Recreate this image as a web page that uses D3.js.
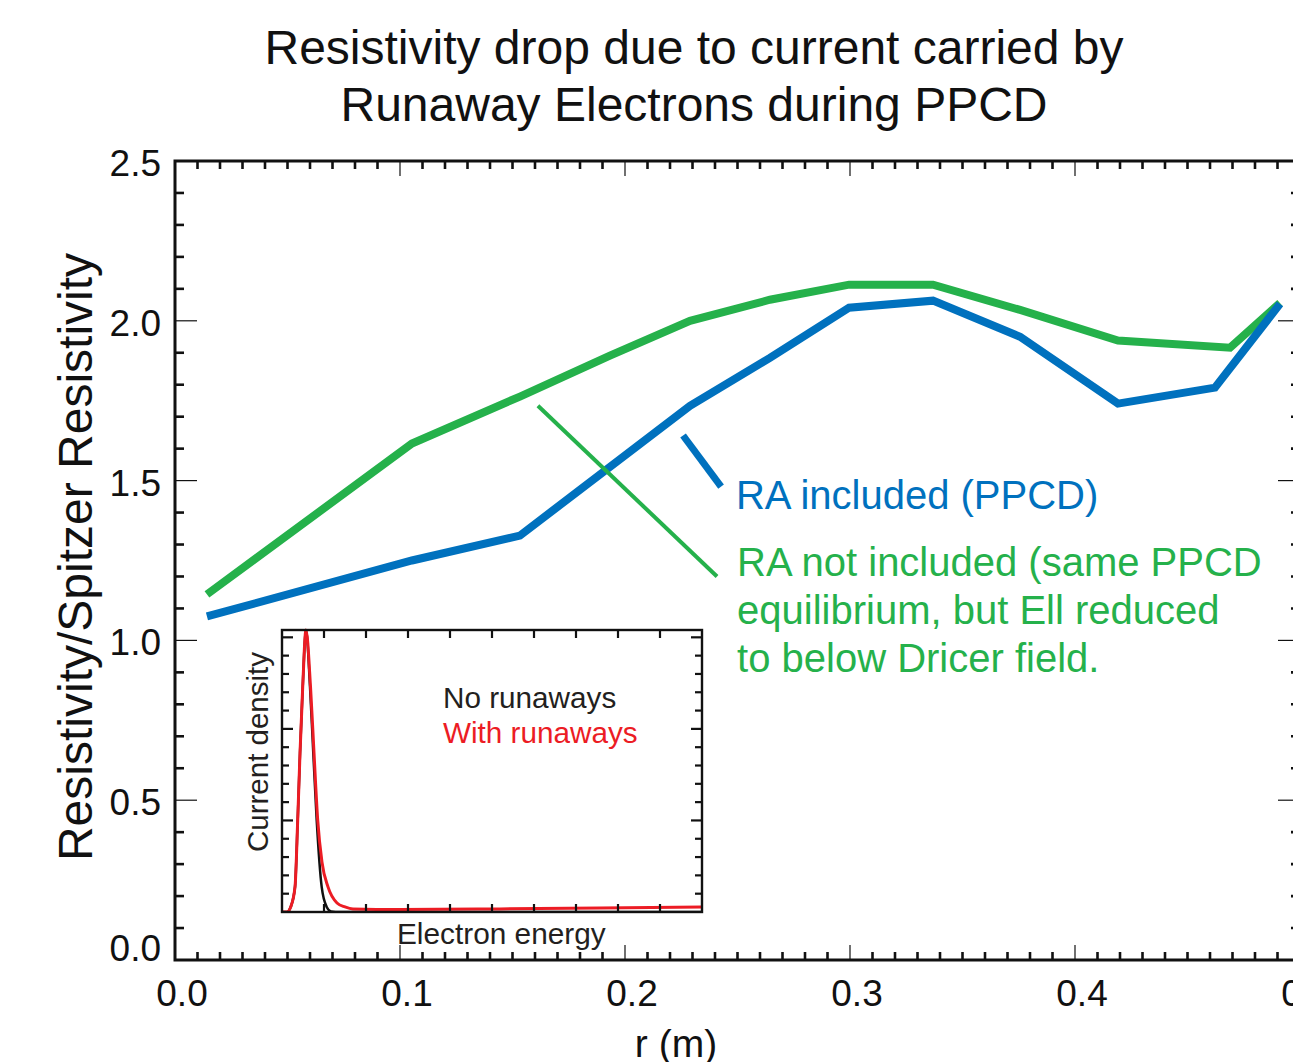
<!DOCTYPE html>
<html>
<head>
<meta charset="utf-8">
<script src="https://cdn.jsdelivr.net/npm/d3@7"></script>
<style>
  html, body { margin: 0; padding: 0; background: #fff; }
  svg { display: block; font-family: "Liberation Sans", Arial, Helvetica, sans-serif; }
</style>
</head>
<body>
<svg id="chart" width="1293" height="1062"></svg>
<script>
// ---- Data -------------------------------------------------------------
// Resistivity / Spitzer resistivity vs minor radius r (m)
const rIncluded = [0.0142, 0.1053, 0.1533, 0.2289, 0.2644, 0.2996, 0.3369, 0.3756, 0.4191, 0.4622, 0.4911];
const raIncluded = [1.075, 1.250, 1.328, 1.734, 1.884, 2.041, 2.063, 1.950, 1.741, 1.791, 2.053];

const rNotIncluded = [0.0142, 0.1053, 0.1533, 0.1933, 0.2289, 0.2644, 0.2996, 0.3369, 0.3756, 0.4191, 0.4689, 0.4911];
const raNotIncluded = [1.144, 1.616, 1.763, 1.891, 2.000, 2.066, 2.113, 2.113, 2.034, 1.938, 1.916, 2.056];

// Inset: current density vs electron energy (arbitrary units)
const energyNoRunaways = [0, 0.119, 0.207, 0.31, 0.374, 0.429, 0.493, 0.571, 0.667, 0.745, 0.826, 0.945, 1.064, 1.167, 1.38, 10];
const densityNoRunaways = [0, 0, 0.018, 0.089, 0.326, 0.564, 0.798, 1.0, 0.798, 0.564, 0.326, 0.089, 0.018, 0.002, 0, 0];
const energyRunaways = [0, 0.119, 0.207, 0.31, 0.374, 0.429, 0.493, 0.571, 0.679, 0.762, 0.85, 0.952, 1.095, 1.31, 1.5, 1.69, 2.81, 5.19, 7.57, 10];
const densityRunaways = [0, 0, 0.018, 0.089, 0.326, 0.564, 0.798, 1.0, 0.798, 0.564, 0.326, 0.177, 0.089, 0.032, 0.018, 0.011, 0.009, 0.011, 0.014, 0.018];

// Tick labels
const xTickLabels = ["0.0", "0.1", "0.2", "0.3", "0.4", "0.5"];
const yTickLabels = ["0.0", "0.5", "1.0", "1.5", "2.0", "2.5"];

const titleLines = ["Resistivity drop due to current carried by", "Runaway Electrons during PPCD"];
const blueNote = "RA included (PPCD)";
const greenNote = ["RA not included (same PPCD", "equilibrium, but Ell reduced", "to below Dricer field."];

// ---- Style ------------------------------------------------------------
const BLUE = "#0071BE";
const GREEN = "#25B14B";
const RED = "#EC1C24";
const INK = "#111";

const svg = d3.select("#chart");

// Plot frame: extends a little past the right edge of the page
const plot = { left: 175, right: 1300, top: 161, bottom: 960 };
const x = d3.scaleLinear().domain([0, 0.5]).range([plot.left, plot.right]);
const y = d3.scaleLinear().domain([0, 2.5]).range([plot.bottom, plot.top]);

// ---- Title ------------------------------------------------------------
svg.append("g").selectAll("text").data(titleLines).join("text")
  .attr("x", 694).attr("y", (d, i) => 64 + i * 57)
  .attr("text-anchor", "middle")
  .attr("font-size", 48).attr("fill", INK)
  .text(d => d);

// ---- Axes -------------------------------------------------------------
const axes = svg.append("g");
const minorX = d3.range(0, 51).map(i => i / 100).filter((d, i) => i % 10 !== 0);
const majorX = d3.range(0, 6).map(i => i / 10);
const minorY = d3.range(0, 26).map(i => i / 10).filter((d, i) => i % 5 !== 0);
const majorY = d3.range(0, 6).map(i => i / 2);

// bottom and top minor ticks
[[plot.bottom, -1], [plot.top, 1]].forEach(([yy, dir]) => {
  axes.append("g").selectAll("line").data(minorX).join("line")
    .attr("x1", d => x(d)).attr("x2", d => x(d))
    .attr("y1", yy).attr("y2", yy + dir * 8)
    .attr("stroke", INK).attr("stroke-width", 2.6);
  axes.append("g").selectAll("line").data(majorX).join("line")
    .attr("x1", d => x(d)).attr("x2", d => x(d))
    .attr("y1", yy).attr("y2", yy + dir * 15)
    .attr("stroke", INK).attr("stroke-width", 1.2);
});
// left and right ticks
[[plot.left, 1], [plot.right, -1]].forEach(([xx, dir]) => {
  axes.append("g").selectAll("line").data(minorY).join("line")
    .attr("x1", xx).attr("x2", xx + dir * 9)
    .attr("y1", d => y(d)).attr("y2", d => y(d))
    .attr("stroke", INK).attr("stroke-width", 2.6);
  axes.append("g").selectAll("line").data(majorY).join("line")
    .attr("x1", xx).attr("x2", xx + dir * 22)
    .attr("y1", d => y(d)).attr("y2", d => y(d))
    .attr("stroke", INK).attr("stroke-width", 1.2);
});
axes.append("rect")
  .attr("x", plot.left).attr("y", plot.top)
  .attr("width", plot.right - plot.left).attr("height", plot.bottom - plot.top)
  .attr("fill", "none").attr("stroke", INK).attr("stroke-width", 3);

// tick labels
axes.append("g").selectAll("text").data(xTickLabels).join("text")
  .attr("x", (d, i) => x(majorX[i]) + 7).attr("y", 1006)
  .attr("text-anchor", "middle").attr("font-size", 37).attr("fill", INK)
  .text(d => d);
axes.append("g").selectAll("text").data(yTickLabels).join("text")
  .attr("x", 161).attr("y", (d, i) => y(majorY[i]) + (i === 0 ? 1 : 15))
  .attr("text-anchor", "end").attr("font-size", 37).attr("fill", INK)
  .text(d => d);

// axis titles
svg.append("text")
  .attr("transform", "translate(92,557) rotate(-90)")
  .attr("text-anchor", "middle").attr("font-size", 48).attr("fill", INK)
  .text("Resistivity/Spitzer Resistivity");
svg.append("text")
  .attr("x", 676).attr("y", 1057)
  .attr("text-anchor", "middle").attr("font-size", 39).attr("fill", INK)
  .text("r (m)");

// ---- Curves -----------------------------------------------------------
const line = d3.line().x(d => x(d[0])).y(d => y(d[1]));
svg.append("path")
  .datum(d3.zip(rNotIncluded, raNotIncluded))
  .attr("d", line).attr("fill", "none")
  .attr("stroke", GREEN).attr("stroke-width", 8).attr("stroke-linejoin", "miter");
svg.append("path")
  .datum(d3.zip(rIncluded, raIncluded))
  .attr("d", line).attr("fill", "none")
  .attr("stroke", BLUE).attr("stroke-width", 8).attr("stroke-linejoin", "miter");

// ---- Annotations ------------------------------------------------------
svg.append("line")
  .attr("x1", x(0.2258)).attr("y1", y(1.641))
  .attr("x2", x(0.2427)).attr("y2", y(1.481))
  .attr("stroke", BLUE).attr("stroke-width", 7);
svg.append("text")
  .attr("x", x(0.2493)).attr("y", y(1.410))
  .attr("font-size", 40).attr("fill", BLUE)
  .text(blueNote);

svg.append("line")
  .attr("x1", x(0.1613)).attr("y1", y(1.734))
  .attr("x2", x(0.2409)).attr("y2", y(1.200))
  .attr("stroke", GREEN).attr("stroke-width", 4);
svg.append("g").selectAll("text").data(greenNote).join("text")
  .attr("x", x(0.2498)).attr("y", (d, i) => y(1.203) + i * 48)
  .attr("font-size", 40).attr("fill", GREEN)
  .text(d => d);

// ---- Inset ------------------------------------------------------------
const inset = { left: 282, right: 702, top: 630, bottom: 912 };
const ex = d3.scaleLinear().domain([0, 10]).range([inset.left, inset.right]);
const jy = d3.scaleLinear().domain([0, 1]).range([inset.bottom, inset.top]);
// tick grid for the density axis (15.4 minor steps over the box height)
const jt = d3.scaleLinear().domain([0, 15.4]).range([inset.bottom, inset.top]);

const ig = svg.append("g");
ig.append("rect")
  .attr("x", inset.left).attr("y", inset.top)
  .attr("width", inset.right - inset.left).attr("height", inset.bottom - inset.top)
  .attr("fill", "#fff");

ig.append("clipPath").attr("id", "inset-clip").append("rect")
  .attr("x", inset.left).attr("y", inset.top - 2)
  .attr("width", inset.right - inset.left).attr("height", inset.bottom - inset.top + 2);

const iline = d3.line().x(d => ex(d[0])).y(d => jy(d[1])).curve(d3.curveMonotoneX);
ig.append("path")
  .datum(d3.zip(energyNoRunaways, densityNoRunaways))
  .attr("d", iline).attr("fill", "none").attr("clip-path", "url(#inset-clip)")
  .attr("stroke", INK).attr("stroke-width", 2.5);
ig.append("path")
  .datum(d3.zip(energyRunaways, densityRunaways))
  .attr("d", iline).attr("fill", "none").attr("clip-path", "url(#inset-clip)")
  .attr("stroke", RED).attr("stroke-width", 3);

const eTicks = d3.range(1, 10);
[[inset.bottom, -1], [inset.top, 1]].forEach(([yy, dir]) => {
  ig.append("g").selectAll("line").data(eTicks).join("line")
    .attr("x1", d => ex(d)).attr("x2", d => ex(d))
    .attr("y1", yy).attr("y2", yy + dir * 8)
    .attr("stroke", INK).attr("stroke-width", 2.2);
});
const dTicks = d3.range(1, 16);
[[inset.left, 1], [inset.right, -1]].forEach(([xx, dir]) => {
  ig.append("g").selectAll("line").data(dTicks).join("line")
    .attr("x1", xx).attr("x2", d => xx + dir * (d % 5 === 0 ? 11 : 7))
    .attr("y1", d => jt(d)).attr("y2", d => jt(d))
    .attr("stroke", INK).attr("stroke-width", 2.2);
});
ig.append("rect")
  .attr("x", inset.left).attr("y", inset.top)
  .attr("width", inset.right - inset.left).attr("height", inset.bottom - inset.top)
  .attr("fill", "none").attr("stroke", INK).attr("stroke-width", 2.4);

ig.append("text")
  .attr("x", 443).attr("y", 708)
  .attr("font-size", 29.7).attr("fill", "#231f20")
  .text("No runaways");
ig.append("text")
  .attr("x", 443).attr("y", 743)
  .attr("font-size", 29.7).attr("fill", RED)
  .text("With runaways");
ig.append("text")
  .attr("x", 397).attr("y", 944)
  .attr("font-size", 29.8).attr("fill", "#231f20")
  .text("Electron energy");
ig.append("text")
  .attr("transform", "translate(268,752) rotate(-90)")
  .attr("text-anchor", "middle")
  .attr("font-size", 29.5).attr("fill", "#231f20")
  .text("Current density");
</script>
</body>
</html>
